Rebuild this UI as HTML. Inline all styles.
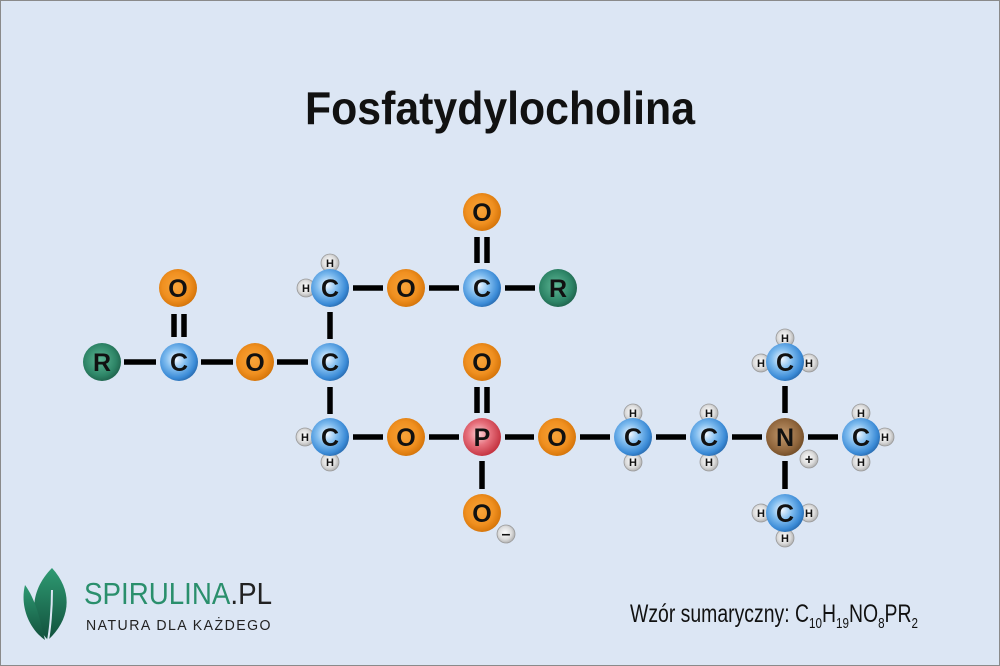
<!DOCTYPE html>
<html><head><meta charset="utf-8"><style>
html,body{margin:0;padding:0;background:#dce6f4}
svg{display:block}
</style></head><body>
<svg width="1000" height="666" viewBox="0 0 1000 666" xmlns="http://www.w3.org/2000/svg">
<defs>
<radialGradient id="gB" cx="0.42" cy="0.42" r="0.6"><stop offset="0" stop-color="#f2f8ff"/><stop offset="0.45" stop-color="#7fbcef"/><stop offset="0.85" stop-color="#3a8ad6"/><stop offset="1" stop-color="#2b6fb4"/></radialGradient>
<radialGradient id="gO" cx="0.45" cy="0.45" r="0.6"><stop offset="0" stop-color="#f7a43a"/><stop offset="0.6" stop-color="#f09020"/><stop offset="0.9" stop-color="#d9780c"/><stop offset="1" stop-color="#c06a08"/></radialGradient>
<radialGradient id="gR" cx="0.45" cy="0.45" r="0.6"><stop offset="0" stop-color="#5fb896"/><stop offset="0.7" stop-color="#2d8466"/><stop offset="1" stop-color="#1d5e48"/></radialGradient>
<radialGradient id="gP" cx="0.42" cy="0.42" r="0.6"><stop offset="0" stop-color="#fbd2d6"/><stop offset="0.5" stop-color="#e6707c"/><stop offset="1" stop-color="#c4323f"/></radialGradient>
<radialGradient id="gN" cx="0.45" cy="0.45" r="0.6"><stop offset="0" stop-color="#c39a6e"/><stop offset="0.7" stop-color="#8f653c"/><stop offset="1" stop-color="#6b4824"/></radialGradient>
<radialGradient id="gH" cx="0.45" cy="0.45" r="0.6"><stop offset="0" stop-color="#ffffff"/><stop offset="0.6" stop-color="#dcdcdc"/><stop offset="1" stop-color="#a8a8a8"/></radialGradient>
<linearGradient id="leaf" x1="0" y1="0" x2="0" y2="1"><stop offset="0" stop-color="#2e9a72"/><stop offset="1" stop-color="#12503c"/></linearGradient>
</defs>
<rect x="0.5" y="0.5" width="999" height="665" fill="#dce6f4" stroke="#8a8a8a"/>
<text x="500" y="124" text-anchor="middle" font-family="Liberation Sans, sans-serif" font-weight="bold" font-size="46" textLength="390" lengthAdjust="spacingAndGlyphs" fill="#111">Fosfatydylocholina</text>

<g stroke="#000" stroke-width="5.5">
<line x1="124" y1="362" x2="156" y2="362"/>
<line x1="201" y1="362" x2="233" y2="362"/>
<line x1="277" y1="362" x2="308" y2="362"/>
<line x1="174" y1="314" x2="174" y2="337"/><line x1="184" y1="314" x2="184" y2="337"/>
<line x1="330" y1="312" x2="330" y2="339"/>
<line x1="330" y1="387" x2="330" y2="414"/>
<line x1="353" y1="288" x2="383" y2="288"/>
<line x1="429" y1="288" x2="459" y2="288"/>
<line x1="505" y1="288" x2="535" y2="288"/>
<line x1="477" y1="237" x2="477" y2="263"/><line x1="487" y1="237" x2="487" y2="263"/>
<line x1="353" y1="437" x2="383" y2="437"/>
<line x1="429" y1="437" x2="459" y2="437"/>
<line x1="505" y1="437" x2="534" y2="437"/>
<line x1="580" y1="437" x2="610" y2="437"/>
<line x1="656" y1="437" x2="686" y2="437"/>
<line x1="732" y1="437" x2="762" y2="437"/>
<line x1="808" y1="437" x2="838" y2="437"/>
<line x1="477" y1="387" x2="477" y2="413"/><line x1="487" y1="387" x2="487" y2="413"/>
<line x1="482" y1="461" x2="482" y2="489"/>
<line x1="785" y1="386" x2="785" y2="413"/>
<line x1="785" y1="461" x2="785" y2="489"/>
</g>

<g font-family="Liberation Sans, sans-serif" font-weight="bold" text-anchor="middle">
<g fill="url(#gH)" stroke="#999" stroke-width="0.8">
<circle cx="330" cy="263" r="9"/><circle cx="306" cy="288" r="9"/>
<circle cx="305" cy="437" r="9"/><circle cx="330" cy="462" r="9"/>
<circle cx="633" cy="413" r="9"/><circle cx="633" cy="462" r="9"/>
<circle cx="709" cy="413" r="9"/><circle cx="709" cy="462" r="9"/>
<circle cx="785" cy="338" r="9"/><circle cx="761" cy="363" r="9"/><circle cx="809" cy="363" r="9"/>
<circle cx="761" cy="513" r="9"/><circle cx="809" cy="513" r="9"/><circle cx="785" cy="538" r="9"/>
<circle cx="861" cy="413" r="9"/><circle cx="861" cy="462" r="9"/><circle cx="885" cy="437" r="9"/>
<circle cx="809" cy="459" r="9"/>
<circle cx="506" cy="534" r="9"/>
</g>
<g font-size="11" fill="#111">
<text x="330" y="267">H</text><text x="306" y="292">H</text>
<text x="305" y="441">H</text><text x="330" y="466">H</text>
<text x="633" y="417">H</text><text x="633" y="466">H</text>
<text x="709" y="417">H</text><text x="709" y="466">H</text>
<text x="785" y="342">H</text><text x="761" y="367">H</text><text x="809" y="367">H</text>
<text x="761" y="517">H</text><text x="809" y="517">H</text><text x="785" y="542">H</text>
<text x="861" y="417">H</text><text x="861" y="466">H</text><text x="885" y="441">H</text>
<text x="809" y="464" font-size="14">+</text>
<text x="506" y="539" font-size="16">–</text>
</g>
<g fill="url(#gB)">
<circle cx="179" cy="362" r="19"/><circle cx="330" cy="362" r="19"/><circle cx="330" cy="288" r="19"/>
<circle cx="482" cy="288" r="19"/><circle cx="330" cy="437" r="19"/><circle cx="633" cy="437" r="19"/>
<circle cx="709" cy="437" r="19"/><circle cx="785" cy="362" r="19"/><circle cx="785" cy="513" r="19"/><circle cx="861" cy="437" r="19"/>
</g>
<g fill="url(#gO)">
<circle cx="178" cy="288" r="19"/><circle cx="255" cy="362" r="19"/><circle cx="406" cy="288" r="19"/>
<circle cx="482" cy="212" r="19"/><circle cx="406" cy="437" r="19"/><circle cx="482" cy="362" r="19"/>
<circle cx="557" cy="437" r="19"/><circle cx="482" cy="513" r="19"/>
</g>
<g fill="url(#gR)"><circle cx="102" cy="362" r="19"/><circle cx="558" cy="288" r="19"/></g>
<circle cx="482" cy="437" r="19" fill="url(#gP)"/>
<circle cx="785" cy="437" r="19" fill="url(#gN)"/>
<g font-size="25" fill="#111">
<text x="179" y="371">C</text><text x="330" y="371">C</text><text x="330" y="297">C</text>
<text x="482" y="297">C</text><text x="330" y="446">C</text><text x="633" y="446">C</text>
<text x="709" y="446">C</text><text x="785" y="371">C</text><text x="785" y="522">C</text><text x="861" y="446">C</text>
<text x="178" y="297">O</text><text x="255" y="371">O</text><text x="406" y="297">O</text>
<text x="482" y="221">O</text><text x="406" y="446">O</text><text x="482" y="371">O</text>
<text x="557" y="446">O</text><text x="482" y="522">O</text>
<text x="102" y="371">R</text><text x="558" y="297">R</text>
<text x="482" y="446">P</text><text x="785" y="446">N</text>
</g>
</g>

<path d="M52 568 C30 590 28 620 48 640 C70 620 74 592 52 568 Z" fill="url(#leaf)"/>
<path d="M25 585 C20 605 28 628 45 640 C40 620 36 600 25 585 Z" fill="url(#leaf)"/>
<path d="M48 640 C50 630 52 610 52 590" stroke="#dce6f4" stroke-width="2" fill="none"/>
<text x="84" y="604" font-family="Liberation Sans, sans-serif" font-size="31" fill="#2a8f6c" textLength="188" lengthAdjust="spacingAndGlyphs">SPIRULINA<tspan fill="#222">.PL</tspan></text>
<text x="86" y="630" font-family="Liberation Sans, sans-serif" font-size="14.5" fill="#222" textLength="186" lengthAdjust="spacingAndGlyphs" letter-spacing="1.5">NATURA DLA KAŻDEGO</text>

<text x="630" y="622" font-family="Liberation Sans, sans-serif" font-size="25" fill="#111" textLength="288" lengthAdjust="spacingAndGlyphs">Wzór sumaryczny: C<tspan font-size="15" dy="6">10</tspan><tspan dy="-6">H</tspan><tspan font-size="15" dy="6">19</tspan><tspan dy="-6">NO</tspan><tspan font-size="15" dy="6">8</tspan><tspan dy="-6">PR</tspan><tspan font-size="15" dy="6">2</tspan></text>
</svg>
</body></html>
